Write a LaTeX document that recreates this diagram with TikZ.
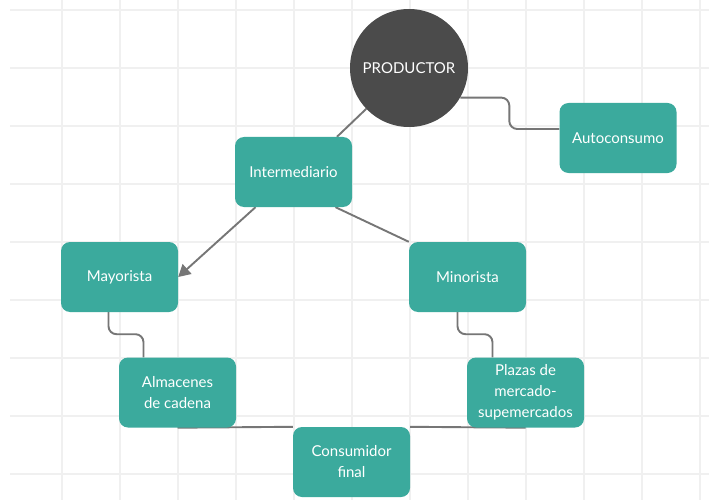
\documentclass[tikz,border=0pt]{standalone}
\usepackage{fontspec}
\setmainfont{Lato}
\usepackage{xcolor}
\usepackage{tikz}
\usetikzlibrary{arrows.meta,positioning,backgrounds}
\definecolor{chanteal}{HTML}{3BAA9D}
\definecolor{chandark}{HTML}{4B4B4B}
\definecolor{chanline}{HTML}{767676}
\definecolor{changrid}{HTML}{F0F0F0}

\begin{document}
\begin{tikzpicture}[x=1pt,y=-1pt,
  box/.style={fill=chanteal,rounded corners=9pt,minimum width=117pt,minimum height=70pt,
    inner sep=2pt,text=white,align=center,font=\fontsize{15}{21}\selectfont},
  hub/.style={circle,fill=chandark,minimum size=118pt,inner sep=0pt,text=white,
    font=\fontsize{15}{21}\selectfont},
  link/.style={chanline,line width=1.9pt},
  elbow/.style={link,rounded corners=8pt}]
  \useasboundingbox (0,0) rectangle (709,500);
  % white sheet with grid
  \begin{scope}[on background layer]
    \fill[white] (0,0) rectangle (709,500);
    \foreach \y in {10,68,...,474}
      \draw[changrid,line width=1.3pt] (10,\y) -- (709,\y);
    \foreach \x in {62,120,...,700}
      \draw[changrid,line width=1.3pt] (\x,0) -- (\x,500);
  \end{scope}
  % channel nodes
  \node[hub] (prod) at (409,68) {PRODUCTOR};
  \node[box] (auto) at (618,138) {Autoconsumo};
  \node[box] (inter) at (293.5,172) {Intermediario};
  \node[box] (mayor) at (119.5,277) {Mayorista};
  \node[box] (minor) at (467.5,277) {Minorista};
  \node[box] (alm) at (177.5,392.5) {Almacenes\\de cadena};
  \node[box] (plaza) at (525.5,392.5) {Plazas de\\mercado-\\supemercados};
  \node[box] (cons) at (351.5,462) {Consumidor\\final};
  % connectors
  \begin{scope}[on background layer]
    \draw[link] (prod) -- (inter.39);
    \draw[elbow] (prod.-30) -| ([xshift=-50pt,yshift=9pt]auto.west) -- ([yshift=9pt]auto.west);
    \draw[link,-{Triangle[length=12pt,width=13pt]}] ([xshift=-38pt]inter.south) -- (mayor.east);
    \draw[link] ([xshift=42pt]inter.south) -- (minor.north west);
    \draw[elbow] ([xshift=-11pt]mayor.south) -- ++(0,22) -| ([xshift=-34pt]alm.north);
    \draw[elbow] ([xshift=-10pt]minor.south) -- ++(0,22) -| ([xshift=-33pt]plaza.north);
    \draw[link] (alm.south) -- (cons.north west);
    \draw[link] (cons.north east) -- (plaza.south);
  \end{scope}
\end{tikzpicture}
\end{document}
